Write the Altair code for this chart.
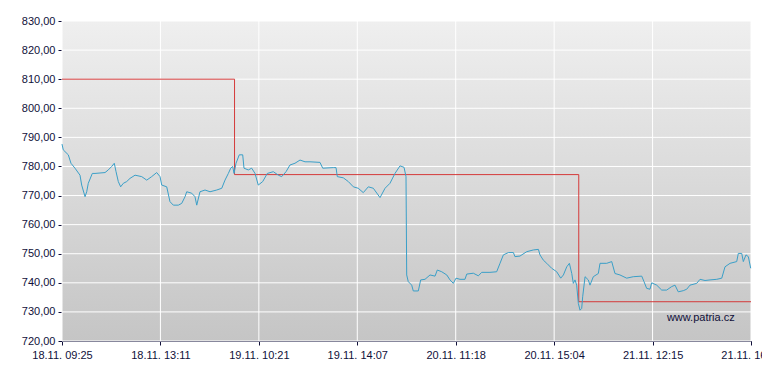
import altair as alt
import pandas as pd

# x position in trading-time units (each axis tick = 100)
blue_t = [0, 1.3, 6.4, 9.1, 13.2, 18.3, 20.0, 23.4, 25.1, 26.7, 30.8, 33.5, 43.7, 47.0, 50.5, 53.1,
          54.9, 57.2, 59.6, 62.3, 65.7, 69.1, 74.2, 81.0, 86.1, 91.1, 96.2, 99.6, 101.3, 106.4, 109.7,
          113.1, 118.2, 121.6, 125.0, 126.7, 131.8, 135.1, 136.9, 140.2, 145.3, 150.4, 157.2, 162.3,
          165.6, 169.0, 171.4, 173.4, 174.8, 176.8, 180.1, 183.6, 184.9, 189.3, 192.7, 196.1, 199.4,
          203.9, 208.6, 214.7, 219.8, 223.2, 227.6, 231.6, 236.7, 241.8, 246.9, 252.0, 262.1, 264.9,
          275.6, 278.4, 279.7, 285.8, 290.9, 296.0, 301.0, 306.1, 311.2, 316.3, 323.1, 328.2, 333.2,
          338.3, 343.4, 347.5, 349.5, 350.2, 351.8, 355.3, 356.9, 362.0, 364.4, 368.8, 373.9, 379.0,
          381.3, 385.8, 390.9, 394.2, 397.6, 400.3, 404.4, 409.4, 411.2, 417.9, 423.0, 426.4, 434.8,
          441.6, 445.0, 448.4, 453.5, 458.6, 460.2, 465.3, 472.1, 478.9, 484.0, 485.6, 489.0, 492.5,
          497.5, 502.6, 506.7, 509.4, 512.8, 515.5, 517.9, 519.5, 521.2, 522.9, 524.6, 526.3, 528.0,
          529.0, 531.4, 534.7, 536.4, 539.8, 544.9, 546.6, 553.4, 558.5, 561.8, 566.9, 573.7, 580.4,
          589.0, 591.3, 594.0, 597.4, 599.1, 604.2, 609.3, 614.3, 619.4, 622.8, 626.1, 631.2, 634.7,
          638.0, 644.8, 648.2, 653.3, 658.4, 665.2, 670.3, 673.6, 678.7, 685.5, 687.1, 690.6, 692.2,
          694.9, 697.3, 699.7]
blue_v = [787.7, 785.7, 784.0, 781.1, 779.4, 777.0, 773.6, 769.6, 771.3, 774.2, 777.6, 777.6, 777.9,
          778.8, 780.0, 781.1, 778.2, 774.8, 773.0, 774.2, 774.8, 775.9, 777.0, 776.5, 775.3, 776.5,
          777.9, 776.5, 773.6, 773.0, 767.9, 766.7, 766.7, 767.3, 769.6, 771.3, 770.8, 769.6, 766.7,
          771.3, 771.9, 771.3, 771.9, 772.5, 775.3, 777.6, 779.4, 780.0, 777.6, 781.1, 784.0, 784.0,
          779.4, 778.8, 779.4, 777.6, 773.6, 774.8, 777.6, 778.2, 777.0, 776.5, 778.2, 780.5, 781.1,
          782.2, 781.6, 781.6, 781.4, 779.4, 779.6, 779.6, 776.5, 776.1, 774.8, 773.0, 772.5, 771.0,
          773.0, 772.5, 769.3, 772.5, 774.2, 777.6, 780.2, 779.7, 776.5, 742.7, 740.4, 739.2, 737.2,
          737.2, 741.0, 741.2, 742.7, 742.3, 744.4, 743.8, 742.7, 741.0, 739.8, 741.6, 741.2, 741.2,
          743.0, 743.3, 742.4, 743.6, 743.6, 743.8, 746.7, 749.6, 750.4, 750.4, 749.0, 749.2, 750.7,
          751.3, 751.5, 749.6, 747.8, 746.7, 745.0, 743.8, 741.6, 742.7, 745.5, 746.7, 743.2, 739.8,
          741.0, 739.2, 732.9, 730.6, 731.2, 735.2, 742.1, 741.0, 739.2, 742.1, 743.2, 746.7, 746.7,
          747.3, 743.2, 742.7, 741.6, 742.1, 742.3, 740.4, 738.1, 737.8, 740.0, 739.2, 737.5, 737.5,
          738.7, 739.2, 736.9, 737.3, 737.8, 739.2, 739.8, 741.2, 740.8, 741.0, 741.2, 741.6, 745.5,
          746.7, 747.3, 750.1, 750.1, 747.3, 749.6, 749.0, 745.0]

red_t = [0, 175.3, 525.0, 700]
red_v = [810.0, 777.2, 733.5, 733.5]

x_ticks = [0, 100, 200, 300, 400, 500, 600, 700]
x_labels = ["18.11. 09:25", "18.11. 13:11", "19.11. 10:21", "19.11. 14:07",
            "20.11. 11:18", "20.11. 15:04", "21.11. 12:15", "21.11. 16:52"]
y_ticks = [720, 730, 740, 750, 760, 770, 780, 790, 800, 810, 820, 830]

W, H = 689, 320
FONT = "Liberation Sans"
NAVY = "#10103a"

blue_df = pd.DataFrame({"t": blue_t, "v": blue_v})
red_df = pd.DataFrame({"t": red_t, "v": red_v})
xg_df = pd.DataFrame({"t": x_ticks})
yg_df = pd.DataFrame({"v": y_ticks})
wm_df = pd.DataFrame({"t": [649], "v": [727.9], "txt": ["www.patria.cz"]})

xscale = alt.Scale(domain=[0, 700], nice=False, zero=False)
yscale = alt.Scale(domain=[720, 830], nice=False, zero=False)

label_arr = "[" + ",".join("'" + s + "'" for s in x_labels) + "]"

x_axis = alt.Axis(
    values=x_ticks, title=None, grid=False,
    labelExpr=label_arr + "[round(datum.value/100)]",
    labelOverlap=False, labelFlush=False, labelBound=False,
    tickSize=4, labelPadding=4, domainColor=NAVY, tickColor=NAVY,
    labelColor=NAVY, labelFont=FONT, labelFontSize=11,
)
y_axis = alt.Axis(
    values=y_ticks, title=None, grid=False,
    labelExpr="replace(format(datum.value, '.2f'), '.', ',')",
    labelOverlap=False, labelFlush=False, labelBound=False,
    tickSize=4, labelPadding=3, domainColor=NAVY, tickColor=NAVY,
    labelColor=NAVY, labelFont=FONT, labelFontSize=11,
)

X = alt.X("t:Q", scale=xscale, axis=x_axis)
Y = alt.Y("v:Q", scale=yscale, axis=y_axis)

bg = alt.Chart(pd.DataFrame({"a": [0]})).mark_rect(
    fill=alt.LinearGradient(
        gradient="linear", x1=0, x2=0, y1=0, y2=1,
        stops=[alt.GradientStop(color="#efefef", offset=0),
               alt.GradientStop(color="#c5c5c5", offset=1)],
    )
).encode(x=alt.value(0), x2=alt.value(W), y=alt.value(0), y2=alt.value(H))

vgrid = alt.Chart(xg_df).mark_rule(color="white", strokeWidth=1).encode(x=X)
hgrid = alt.Chart(yg_df).mark_rule(color="white", strokeWidth=1).encode(y=Y)

red = alt.Chart(red_df).mark_line(color="#d43a3a", strokeWidth=1, interpolate="step-after").encode(
    x=X, y=Y,
)

blue = alt.Chart(blue_df).mark_line(color="#3a9fc8", strokeWidth=1).encode(x=X, y=Y)

wm = alt.Chart(wm_df).mark_text(font=FONT, fontSize=11, color=NAVY, align="center", baseline="middle").encode(
    x=X, y=Y, text="txt:N",
)

chart = alt.layer(bg, vgrid, hgrid, red, blue, wm).properties(
    width=W, height=H,
    autosize=alt.AutoSizeParams(type="none"),
    padding={"left": 54, "top": 13, "right": 11, "bottom": 22},
    background="white",
).configure_view(stroke=None)

chart.save("out.html", embed_options={"renderer": "svg", "actions": False})
